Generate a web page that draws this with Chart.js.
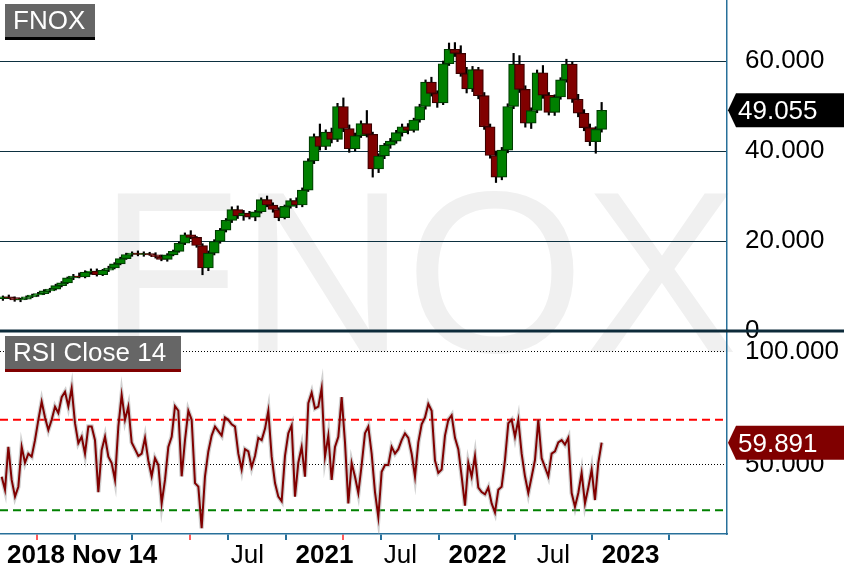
<!DOCTYPE html>
<html><head><meta charset="utf-8">
<script src="https://cdn.jsdelivr.net/npm/chart.js@4"></script>
<style>html,body{margin:0;padding:0;background:#fff;overflow:hidden}canvas{display:block}</style>
</head><body>
<canvas id="c" width="864" height="577"></canvas>
<script>
// ---------- data ----------
const symbol = 'FNOX';
const rsiTitle = 'RSI Close 14';
const startLabel = '2018 Nov 14';
// x unit: days since 2019-01-01
const candleStartDay = -36;
const candleStepDays = 14;
const candleOpen = [7.2,7.6,7.4,6.9,7.1,7.6,8.0,8.3,8.9,9.3, 10.1,10.7,11.8,12.2,12.0,13.1,13.3,12.5,13.5,14.0, 14.9,16.1,17.0,17.3,17.0,17.2,16.9,16.5,15.9,16.9, 17.7,19.5,21.4,20.8,19.0,14.0,17.3,19.9,22.4,24.6, 27.0,25.6,26.2,25.3,26.5,29.2,28.0,27.0,25.2,27.7, 29.0,28.0,31.3,37.8,43.2,41.0,44.2,42.6,49.9,45.0, 40.5,43.4,46.1,43.7,36.0,38.9,41.3,42.2,44.1,45.4, 44.6,46.9,49.9,55.3,52.8,50.7,59.4,62.6,61.7,57.2, 53.8,58.1,52.3,45.4,39.0,34.2,40.2,49.9,59.3,53.7, 46.2,49.0,57.4,52.4,48.6,52.0,55.8,59.3,51.5,48.4, 45.2,42.1,44.8];
const candleHigh = [7.8,8.0,7.6,7.3,7.8,8.2,8.6,9.2,9.5,10.4, 11.0,12.0,12.6,12.9,13.4,13.8,13.8,13.7,14.4,15.2, 16.4,17.3,17.6,17.8,17.6,17.5,17.4,16.9,17.2,18.0, 19.8,21.8,22.3,21.0,19.4,17.8,20.3,22.8,25.0,27.6, 27.8,26.8,26.6,26.8,29.6,30.0,28.5,27.4,28.0,29.4, 29.6,31.8,38.3,43.8,46.0,44.7,45.1,50.6,51.8,45.8, 44.0,46.7,49.0,44.2,39.4,41.7,42.8,44.6,46.0,46.1, 47.3,50.4,55.8,56.4,53.4,60.0,64.0,64.1,63.4,58.6, 58.8,58.6,53.0,46.0,40.0,40.8,50.5,61.7,61.2,54.5, 49.6,58.0,59.0,53.0,52.5,56.3,60.4,59.8,52.6,49.2, 46.0,45.4,50.8];
const candleLow = [6.8,7.2,6.6,6.5,7.0,7.4,7.7,8.1,8.6,9.1, 9.8,10.5,11.4,11.8,11.8,12.6,12.2,12.3,13.2,13.8, 14.7,15.9,16.6,16.7,16.6,16.8,16.2,15.6,15.5,16.7, 17.5,19.2,20.5,18.6,12.5,13.4,16.9,19.5,22.0,24.1, 25.0,24.6,24.9,24.5,26.2,27.6,26.4,24.5,24.9,27.3, 27.4,27.6,31.0,37.2,40.2,40.3,41.8,42.1,44.3,39.7, 40.0,43.0,43.1,34.2,35.2,38.3,40.6,41.7,43.3,43.8, 44.2,46.4,49.3,52.2,49.7,50.3,59.0,61.0,56.6,52.9, 53.2,51.6,44.8,38.4,33.0,33.6,39.6,49.4,53.0,45.3, 45.0,48.5,51.7,48.0,47.9,51.5,55.3,50.8,47.6,44.5, 41.2,39.5,44.2];
const candleClose = [7.6,7.4,6.9,7.1,7.6,8.0,8.3,8.9,9.3,10.1, 10.7,11.8,12.2,12.0,13.1,13.3,12.5,13.5,14.0,14.9, 16.1,17.0,17.3,17.0,17.2,16.9,16.5,15.9,16.9,17.7, 19.5,21.4,20.8,19.0,14.0,17.3,19.9,22.4,24.6,27.0, 25.6,26.2,25.3,26.5,29.2,28.0,27.0,25.2,27.7,29.0, 28.0,31.3,37.8,43.2,41.0,44.2,42.6,49.9,45.0,40.5, 43.4,46.1,43.7,36.0,38.9,41.3,42.2,44.1,45.4,44.6, 46.9,49.9,55.3,52.8,50.7,59.4,62.6,61.7,57.2,53.8, 58.1,52.3,45.4,39.0,34.2,40.2,49.9,59.3,53.7,46.2, 49.0,57.4,52.4,48.6,52.0,55.8,59.3,51.5,48.4,45.2, 42.1,44.8,49.055];

const rsiStartDay = -39;
const rsiStepDays = 7.95;
const rsiValues = [44.8,39,58,43.4,36,40.4,58,51,55,53.7, 61,70,78,71,65.5,70,75.8,73,80,82.4, 76,84,68.5,59.7,62.5,55,67,67,61,38, 56.6,62.5,53.7,50.9,43.4,67,81,70,75.8,60, 57,54,55,62,52,45,53,50,33,43.4, 58,62.5,76,74,45,61,74,70,42,40.4, 22,45,56,63,67,65,63,71,70,68, 67,55,48,57,56,49,54,62,61,66, 74,53.7,42,36,34,54,64,67.5,36,51,
 58,44.8,77.4,82,75,75.8,84,53.7,63,43.4, 58,62.5,80,60,33,50.9,44.8,37.6,50,64, 67,55,38,27,47,50,50,58,55,57, 61,64,62,55,44.8,60,68,71,77,74, 52,46.5,48,63,70,72,62,57,45,32, 50.9,44.8,54,40,38,37,40,33,29,39, 40.4,52.2,68.5,70,62.5,70,55,45,37.6,44.8, 52.2,70,53,49,45,55,56,60,61,59, 62,37.6,31.5,37.6,46.5,33,40,48,34.5,50.9, 59.891];
const rsiUpper = 70, rsiLower = 30;

const priceTicks = [0, 20, 40, 60];
const rsiTicks = [50, 100];
const xMin = -43, xMax = 1691;
const priceMin = 0, priceMax = 73.56;
const rsiMin = 19.47, rsiMax = 109.29;
const axisTickDays = [0, 90, 181, 365, 456, 547, 731, 821, 912, 1096, 1277, 1461];
const markerTickDays = [90, 456, 821];
const axisLabelDays = [547, 731, 912, 1096, 1277, 1461];
const axisLabels = ['Jul', '2021', 'Jul', '2022', 'Jul', '2023'];
const axisLabelBold = [false, true, false, true, false, true];

// ---------- build ----------
const FONT = "'Liberation Sans', Arial, sans-serif";
const AXIS_BLUE = '#28709a';
const candleX = candleOpen.map((_, i) => candleStartDay + i * candleStepDays);
const wickData = candleX.map((x, i) => ({x, y: [candleLow[i], candleHigh[i]]}));
const bodyData = candleX.map((x, i) => ({x, y: [candleOpen[i], candleClose[i]]}));
const isUp = candleOpen.map((o, i) => candleClose[i] >= o);
const rsiData = rsiValues.map((v, i) => ({x: rsiStartDay + i * rsiStepDays, y: v}));

function tag(ctx, x0, x1, y, text, bg) {
  ctx.beginPath();
  ctx.moveTo(x0 + 1, y);
  ctx.lineTo(x0 + 9, y - 17);
  ctx.lineTo(x1, y - 17);
  ctx.lineTo(x1, y + 17);
  ctx.lineTo(x0 + 9, y + 17);
  ctx.closePath();
  ctx.fillStyle = bg; ctx.fill();
  ctx.fillStyle = '#fff';
  ctx.font = '26px ' + FONT;
  ctx.textAlign = 'left'; ctx.textBaseline = 'alphabetic';
  ctx.fillText(text, x0 + 11, y + 9);
}
function titleBox(ctx, x, y, w, text, barColor) {
  ctx.fillStyle = '#666666';
  ctx.fillRect(x, y, w, 33);
  ctx.fillStyle = barColor;
  ctx.fillRect(x, y + 33, w, 3);
  ctx.fillStyle = '#fff';
  ctx.font = '26px ' + FONT;
  ctx.textAlign = 'left'; ctx.textBaseline = 'alphabetic';
  ctx.fillText(text, x + 8, y + 24.5);
}
function fixAxis(width) {
  return s => {
    if (width) s.width = width;
    s.paddingTop = 0; s.paddingBottom = 0; s.paddingLeft = 0; s.paddingRight = 0;
  };
}

const decor = {
  id: 'decor',
  beforeDraw(chart) {
    const ctx = chart.ctx, a = chart.chartArea;
    ctx.save();
    ctx.fillStyle = '#fff';
    ctx.fillRect(0, 0, chart.width, chart.height);
    ctx.fillStyle = '#f0f0f0';
    ctx.font = '230px ' + FONT;
    ctx.textAlign = 'left'; ctx.textBaseline = 'alphabetic';
    ctx.fillText(symbol, a.left + 99, chart.scales.yP.bottom + 21);
    ctx.restore();
  },
  afterDraw(chart) {
    const ctx = chart.ctx, a = chart.chartArea;
    const yP = chart.scales.yP, yR = chart.scales.yR, xs = chart.scales.x;
    ctx.save();
    const sy = yP.getPixelForValue(0);
    ctx.strokeStyle = '#0d2b3a'; ctx.lineWidth = 3;
    ctx.beginPath(); ctx.moveTo(0, sy); ctx.lineTo(chart.width - 20, sy); ctx.stroke();
    titleBox(ctx, a.left + 5, yP.top + 4, 90, symbol, '#000');
    titleBox(ctx, a.left + 5, yR.top + 5, 176, rsiTitle, '#800000');
    const lastC = candleClose[candleClose.length - 1];
    const lastR = rsiValues[rsiValues.length - 1];
    tag(ctx, a.right, chart.width - 20, yP.getPixelForValue(lastC), lastC.toFixed(3), '#000');
    tag(ctx, a.right, chart.width - 20, yR.getPixelForValue(lastR), lastR.toFixed(3), '#800000');
    const by = xs.top + 29;
    ctx.fillStyle = '#000'; ctx.textBaseline = 'alphabetic';
    ctx.font = 'bold 26px ' + FONT; ctx.textAlign = 'left';
    ctx.fillText(startLabel, a.left + 7, by);
    ctx.textAlign = 'center';
    axisLabelDays.forEach((d, i) => {
      ctx.font = (axisLabelBold[i] ? 'bold ' : '') + '26px ' + FONT;
      ctx.fillText(axisLabels[i], xs.getPixelForValue(d), by);
    });
    ctx.restore();
  }
};

new Chart(document.getElementById('c'), {
  type: 'bar',
  data: {
    datasets: [
      { type: 'line', data: [{x: xMin, y: rsiUpper}, {x: xMax, y: rsiUpper}], yAxisID: 'yR', xAxisID: 'x',
        borderColor: '#ff0000', borderWidth: 2, borderDash: [8, 5], pointRadius: 0, order: 9 },
      { type: 'line', data: [{x: xMin, y: rsiLower}, {x: xMax, y: rsiLower}], yAxisID: 'yR', xAxisID: 'x',
        borderColor: '#008000', borderWidth: 2, borderDash: [8, 5], pointRadius: 0, order: 9 },
      { data: wickData, yAxisID: 'yP', xAxisID: 'x', backgroundColor: '#000', barThickness: 1.5,
        grouped: false, order: 5 },
      { data: bodyData, yAxisID: 'yP', xAxisID: 'x',
        backgroundColor: bodyData.map((_, i) => isUp[i] ? '#008000' : '#800000'),
        borderColor: bodyData.map((_, i) => isUp[i] ? '#003d00' : '#3a0000'),
        borderWidth: 1.2, borderSkipped: false, barThickness: 10, grouped: false, order: 4 },
      { type: 'line', data: rsiData, yAxisID: 'yR', xAxisID: 'x', borderColor: 'rgba(150,150,150,0.45)',
        borderWidth: 4.5, pointRadius: 0, order: 2 },
      { type: 'line', data: rsiData, yAxisID: 'yR', xAxisID: 'x', borderColor: '#800000',
        borderWidth: 2, pointRadius: 0, order: 1 }
    ]
  },
  options: {
    responsive: false, animation: false, devicePixelRatio: 1, events: [],
    layout: { padding: 0 },
    plugins: { legend: { display: false }, tooltip: { enabled: false } },
    scales: {
      x: {
        type: 'linear', position: 'bottom', min: xMin, max: xMax, offset: false,
        afterBuildTicks: s => { s.ticks = axisTickDays.map(v => ({value: v})); },
        afterFit: s => { s.height = 43; s.paddingLeft = 0; s.paddingRight = 0; s.paddingTop = 0; s.paddingBottom = 0; },
        ticks: { display: false, autoSkip: false },
        grid: { drawOnChartArea: false, drawTicks: true, tickLength: 6, lineWidth: 2,
          color: c => (c.tick && markerTickDays.includes(c.tick.value)) ? '#ff5a5a' : AXIS_BLUE },
        border: { color: AXIS_BLUE, width: 1.5 }
      },
      yP: {
        type: 'linear', position: 'right', stack: 'panes', stackWeight: 331, min: priceMin, max: priceMax,
        afterBuildTicks: s => { s.ticks = priceTicks.map(v => ({value: v})); },
        afterFit: fixAxis(137),
        ticks: { autoSkip: false, padding: 18, color: '#000', font: { size: 26, family: FONT },
          callback: v => v === 0 ? '0' : v.toFixed(3) },
        grid: { drawTicks: false, color: '#0c3040', lineWidth: c => (c.tick && c.tick.value === 0) ? 0 : 1 },
        border: { color: AXIS_BLUE, width: 1.5 }
      },
      yR: {
        type: 'linear', position: 'right', stack: 'panes', stackWeight: 203, min: rsiMin, max: rsiMax,
        afterBuildTicks: s => { s.ticks = rsiTicks.map(v => ({value: v})); },
        afterFit: fixAxis(137),
        ticks: { autoSkip: false, padding: 18, color: '#000', font: { size: 26, family: FONT },
          callback: v => v.toFixed(3) },
        grid: { drawTicks: false, color: '#000', lineWidth: 1 },
        border: { color: AXIS_BLUE, width: 1.5, dash: [1, 2] }
      }
    }
  },
  plugins: [decor]
});
</script>
</body></html>
